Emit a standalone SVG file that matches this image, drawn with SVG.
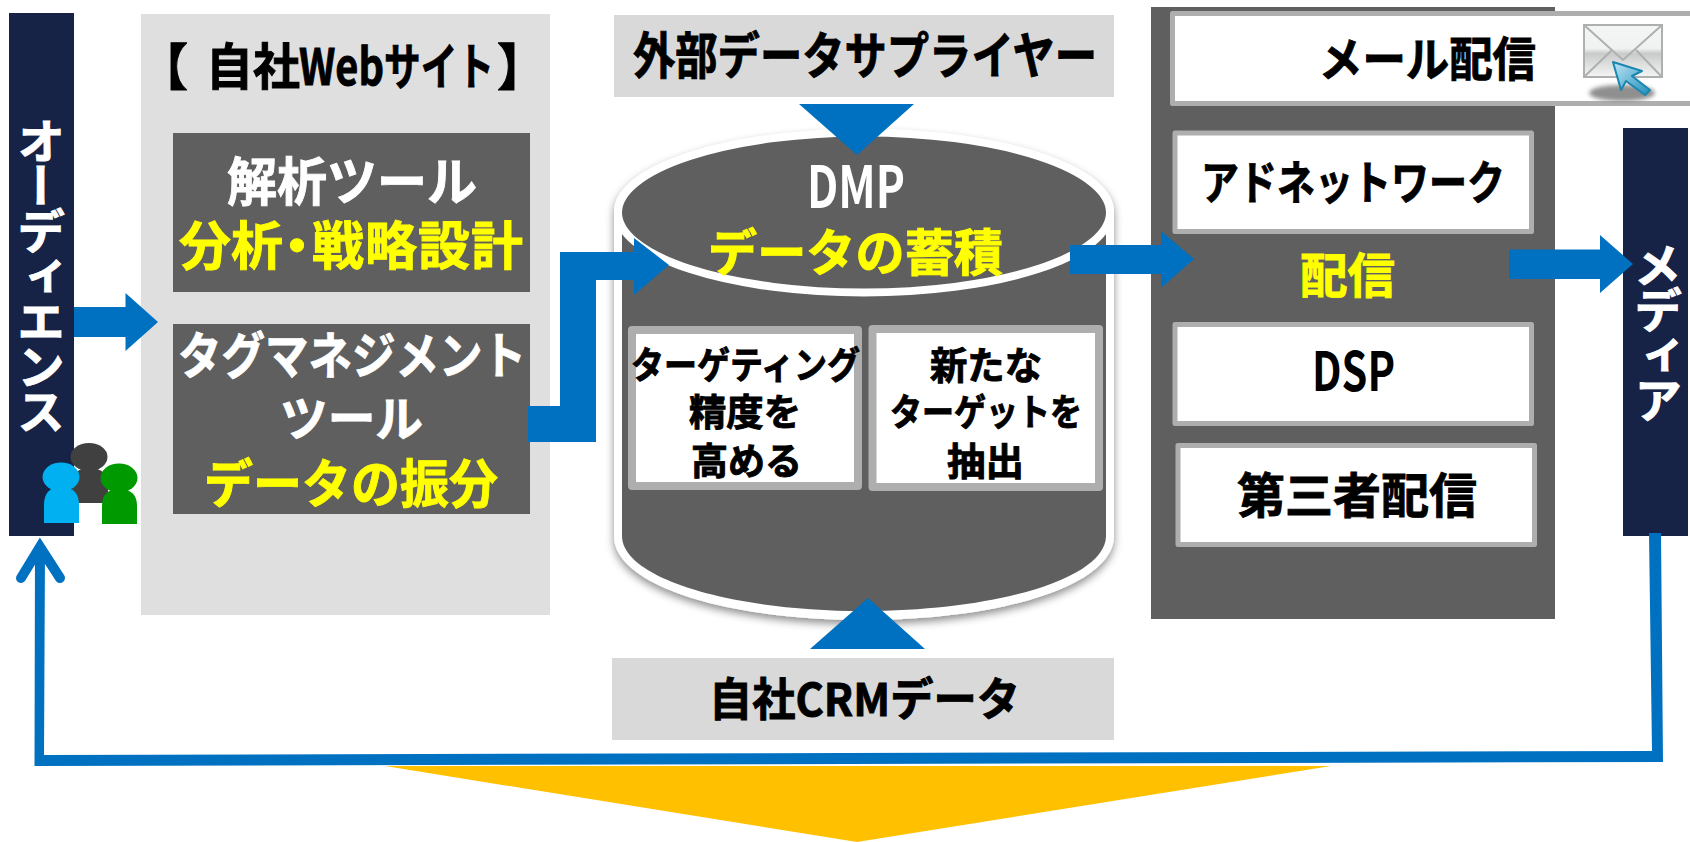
<svg xmlns="http://www.w3.org/2000/svg" width="1690" height="842" viewBox="0 0 1690 842">
<style>
text{font-family:"Noto Sans CJK JP","Noto Sans",sans-serif;font-weight:700;fill:#000;stroke:#000;stroke-width:.9}
.w{fill:#fff;stroke:#fff}.y{fill:#ff0;stroke:#ff0}
.plain{stroke:none}
.navy{fill:#172247}.dark{fill:#5f5f5f}
.card{fill:#fff;stroke:#aeaeae;stroke-width:8;stroke-linejoin:round}
.thin{stroke-width:5}
.blue{fill:#0070c0}
.v{writing-mode:vertical-rl;fill:#fff;stroke:#fff;letter-spacing:-3px}
</style>
<defs>
<filter id="sh" x="-10%" y="-10%" width="120%" height="120%"><feDropShadow dx="0" dy="4" stdDeviation="4" flood-color="#000" flood-opacity=".45"/></filter>
<filter id="bl" x="-20%" y="-40%" width="140%" height="180%"><feGaussianBlur stdDeviation="2"/></filter>
<linearGradient id="env" x1="0" y1="0" x2="0" y2="1"><stop offset="0" stop-color="#f4f6f6"/><stop offset=".45" stop-color="#f0f2f2"/><stop offset=".55" stop-color="#c9cbcb"/><stop offset="1" stop-color="#f5f5f5"/></linearGradient>
<linearGradient id="cur" x1="0" y1="0" x2="1" y2="1"><stop offset="0" stop-color="#bfe6f5"/><stop offset="1" stop-color="#1f8fbb"/></linearGradient>
</defs>

<g id="website">
<rect x="141" y="14" width="409" height="601" fill="#dfdfdf"/>
<text y="85" font-size="50"><tspan x="138">【</tspan><tspan x="206" textLength="94" lengthAdjust="spacingAndGlyphs">自社</tspan><tspan x="299" textLength="85" lengthAdjust="spacingAndGlyphs">Web</tspan><tspan x="384" textLength="110" lengthAdjust="spacingAndGlyphs">サイト</tspan><tspan x="497">】</tspan></text>
</g>
<g id="analysis-tool">
<rect class="dark" x="173" y="133" width="357" height="159"/>
<text class="w" x="227" y="201" font-size="52" textLength="250" lengthAdjust="spacingAndGlyphs">解析ツール</text>
<text class="y" x="179 231 271 312 365 418 471" y="265" font-size="52">分析・戦略設計</text>
</g>
<g id="tag-tool">
<rect class="dark" x="173" y="324" width="357" height="190"/>
<text class="w" x="178" y="374" font-size="50" textLength="348" lengthAdjust="spacingAndGlyphs">タグマネジメント</text>
<text class="w" x="280" y="436" font-size="48" textLength="143" lengthAdjust="spacingAndGlyphs">ツール</text>
<text class="y" x="204" y="503" font-size="52" textLength="294" lengthAdjust="spacingAndGlyphs">データの振分</text>
</g>
<g id="audience">
<rect class="navy" x="9" y="13" width="65" height="523"/>
<text class="v" x="41" y="117" font-size="48">オーディエンス</text>
</g>
<g id="people">
<ellipse cx="89" cy="457" rx="18.5" ry="14" fill="#404040"/>
<path d="M72,503V485Q72,468 89,468Q108,468 108,485V503Z" fill="#404040"/>
<ellipse cx="61" cy="477" rx="18.5" ry="14.5" fill="#00b0f0"/>
<path d="M44,523V505Q44,487 61,487Q79,487 79,505V523Z" fill="#00b0f0"/>
<ellipse cx="119" cy="478" rx="18.5" ry="14.5" fill="#009900"/>
<path d="M102,524V506Q102,489 119,489Q137,489 137,506V524Z" fill="#009900"/>
</g>
<g id="supplier">
<rect x="614" y="15" width="500" height="82" fill="#d9d9d9"/>
<text x="633" y="74" font-size="50" textLength="464" lengthAdjust="spacingAndGlyphs">外部データサプライヤー</text>
</g>
<g id="crm">
<rect x="612" y="658" width="502" height="82" fill="#d9d9d9"/>
<text x="709" y="716" font-size="45" textLength="311" lengthAdjust="spacingAndGlyphs">自社CRMデータ</text>
</g>
<g id="dmp">
<path d="M614,212C614,165 725,130 864,130C1003,130 1114,165 1114,212V536C1114,585 1003,620 864,620C725,620 614,585 614,536Z" fill="#fff" filter="url(#sh)"/>
<path d="M622,220V536C622,578 730,611 864,611C998,611 1106,578 1106,536V220Z" class="dark"/>
<ellipse cx="864" cy="212.500" rx="246" ry="80" class="dark" stroke="#fff" stroke-width="8"/>
<text class="w plain" x="807" y="208" font-size="58" textLength="98" lengthAdjust="spacingAndGlyphs">DMP</text>
<text class="y" x="708" y="271" font-size="50" textLength="295" lengthAdjust="spacingAndGlyphs">データの蓄積</text>
</g>
<g id="targeting">
<rect class="card" x="632" y="330" width="226" height="156"/>
<text x="631" y="379" font-size="37" textLength="229" lengthAdjust="spacingAndGlyphs">ターゲティング</text>
<text x="689" y="426" font-size="37" textLength="112" lengthAdjust="spacingAndGlyphs">精度を</text>
<text x="691" y="475" font-size="37" textLength="111" lengthAdjust="spacingAndGlyphs">高める</text>
</g>
<g id="new-target">
<rect class="card" x="872.500" y="329" width="226.500" height="158"/>
<text x="930" y="379" font-size="38" textLength="112" lengthAdjust="spacingAndGlyphs">新たな</text>
<text x="890" y="426" font-size="37" textLength="192" lengthAdjust="spacingAndGlyphs">ターゲットを</text>
<text x="947" y="475" font-size="38" textLength="77" lengthAdjust="spacingAndGlyphs">抽出</text>
</g>
<g id="delivery">
<rect class="dark" x="1151" y="7" width="404" height="612"/>
<text class="y" x="1300" y="293" font-size="48" textLength="95" lengthAdjust="spacingAndGlyphs">配信</text>
</g>
<g id="mail">
<rect x="1172.500" y="13.500" width="520" height="90" fill="#fff" stroke="#aeaeae" stroke-width="5" stroke-linejoin="round"/>
<text x="1319" y="76" font-size="47" textLength="217" lengthAdjust="spacingAndGlyphs">メール配信</text>
<ellipse cx="1622" cy="93" rx="33" ry="8" fill="#8f8f8f" filter="url(#bl)"/>
<rect x="1584" y="25" width="78" height="52" fill="url(#env)" stroke="#aeb0b0" stroke-width="2"/>
<path d="M1584,25L1623,60L1662,25M1584,77L1612,50M1662,77L1636,50" fill="none" stroke="#aeb0b0" stroke-width="2"/>
<path d="M1613,62L1642,71L1632,76L1650,90L1645,95L1626,81L1621,90Z" fill="url(#cur)" stroke="#1b86b0" stroke-width="2" stroke-linejoin="round"/>
</g>
<g id="adnetwork">
<rect class="card thin" x="1175" y="133" width="356.500" height="98.500"/>
<text x="1201" y="199" font-size="46" textLength="304" lengthAdjust="spacingAndGlyphs">アドネットワーク</text>
</g>
<g id="dsp">
<rect class="card thin" x="1175" y="324.500" width="356.500" height="99"/>
<text class="plain" x="1312" y="391" font-size="54" textLength="83" lengthAdjust="spacingAndGlyphs">DSP</text>
</g>
<g id="third-party">
<rect class="card thin" x="1178" y="445.500" width="356.500" height="99"/>
<text x="1237" y="513" font-size="48" textLength="240" lengthAdjust="spacingAndGlyphs">第三者配信</text>
</g>
<g id="media">
<rect class="navy" x="1623" y="128" width="65" height="408"/>
<text class="v" x="1658" y="241" font-size="48">メディア</text>
</g>
<g id="outcome">
<polygon points="385,766 1331,766 857,842" fill="#ffc000"/>
</g>
<g id="connectors">
<polygon class="blue" points="74,307 125.500,307 125.500,293 158,322 125.500,351 125.500,337 74,337"/>
<polygon class="blue" points="528,406 560,406 560,252 634,252 634,238 669,265 634,295 634,280 596,280 596,442 528,442"/>
<polygon class="blue" points="799,104 914,104 857,155"/>
<polygon class="blue" points="868,598 925,649 810,649"/>
<polygon class="blue" points="1070,245 1161,245 1161,231 1194,259 1161,288 1161,274 1070,274"/>
<polygon class="blue" points="1509,249.500 1600,249.500 1600,235 1633,264 1600,293 1600,279 1509,279"/>
<polygon class="blue" points="1649,533 1661,533 1663,762 34.500,766 35,548 45,548 44,755 1652,751"/>
<path d="M21,578L40,547L60,578" fill="none" stroke="#0070c0" stroke-width="10" stroke-linecap="round" stroke-linejoin="miter"/>
</g>
</svg>
